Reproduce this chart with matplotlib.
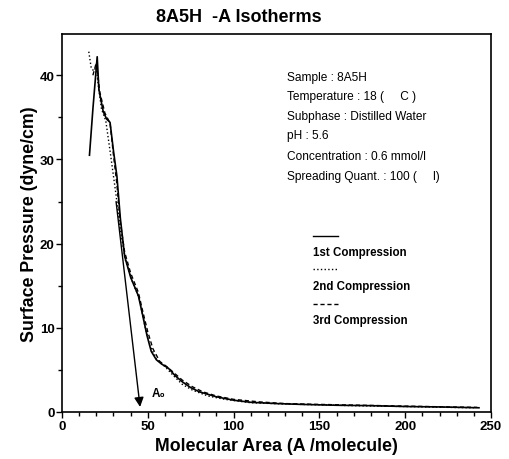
import matplotlib
matplotlib.use("Agg")
import matplotlib.pyplot as plt
from matplotlib.ticker import MultipleLocator

plt.rcParams['font.family'] = ['Liberation Sans', 'DejaVu Sans']

# 1st compression (solid)
x1 = [16, 18, 20.5, 21.5, 24, 26, 28, 30, 32, 34, 36.5, 40, 44.5, 47, 49.5, 52, 55, 58, 62, 66, 70, 75, 80, 90, 100, 110, 125, 140, 160, 180, 200, 220, 243]
y1 = [30.5, 36, 42.2, 38.3, 35.7, 34.8, 34.4, 31, 28, 23, 18.5, 16, 13.8, 11.5, 9.1, 7.2, 6.2, 5.7, 5.2, 4.3, 3.6, 2.9, 2.4, 1.8, 1.4, 1.15, 1.0, 0.9, 0.8, 0.75, 0.65, 0.6, 0.5]
# 2nd compression (dotted)
x2 = [15.6, 17, 18.5, 20, 21, 23, 25.5, 28, 30, 32, 34, 37, 41, 45, 48, 51, 55, 60, 65, 70, 76, 85, 95, 110, 130, 150, 170, 200, 225, 240]
y2 = [42.8, 40.9, 40.5, 41, 39, 36, 34.6, 31, 28, 25, 21.5, 18, 15.5, 13.5, 10.5, 8, 6.3, 5.4, 4.3, 3.3, 2.6, 1.9, 1.5, 1.1, 0.95, 0.85, 0.75, 0.65, 0.55, 0.5]
# 3rd compression (dashed)
x3 = [18, 20, 22, 25, 28, 30, 32, 34, 36.5, 40, 44.5, 47, 50, 53, 57, 61, 65, 70, 76, 82, 90, 100, 115, 130, 150, 175, 200, 225, 242]
y3 = [40, 41.5, 38, 35.5, 34.3, 30.5, 27, 22.5, 19, 16.5, 14.2, 12, 9.5, 7.5, 6, 5.4, 4.7, 3.8, 3.0, 2.4, 1.9, 1.5, 1.2, 1.0, 0.9, 0.8, 0.7, 0.6, 0.55]

arrow_start = (31.5, 25)
arrow_end = (45.5, 0.6)

info_lines = ["Sample : 8A5H", "Temperature : 18 (     C )", "Subphase : Distilled Water",
              "pH : 5.6", "Concentration : 0.6 mmol/l", "Spreading Quant. : 100 (     l)"]
legend_labels = ["1st Compression", "2nd Compression", "3rd Compression"]

fig = plt.figure(figsize=(5.1, 4.6), dpi=100)
ax = fig.add_axes([0.1216, 0.1022, 0.8411, 0.8217])

ax.plot(x1, y1, color='black', lw=1.2, ls='-')
ax.plot(x2, y2, color='black', lw=1.0, ls=':')
ax.plot(x3, y3, color='black', lw=1.0, ls=(0, (3, 2)))

ax.annotate('', xy=arrow_end, xytext=arrow_start,
            arrowprops=dict(arrowstyle='-|>', color='black', lw=1.0,
                            mutation_scale=14, shrinkA=0, shrinkB=0))
ax.text(52, 2.3, 'A\u2080', fontsize=8.5, fontweight='bold', va='center')

ax.set_xlim(0, 250)
ax.set_ylim(0, 44.9)
ax.xaxis.set_major_locator(MultipleLocator(50))
ax.xaxis.set_minor_locator(MultipleLocator(10))
ax.yaxis.set_major_locator(MultipleLocator(10))
ax.yaxis.set_minor_locator(MultipleLocator(5))
ax.tick_params(which='major', length=4, width=1, direction='out', labelsize=9.5, pad=1.5)
ax.tick_params(which='minor', length=3, width=1, direction='out')
for lab in ax.get_xticklabels() + ax.get_yticklabels():
    lab.set_fontweight('bold')
for s in ax.spines.values():
    s.set_linewidth(1.2)

ax.set_xlabel('Molecular Area (A /molecule)', fontsize=12.8, fontweight='bold', labelpad=4)
ax.set_ylabel('Surface Pressure (dyne/cm)', fontsize=12.8, fontweight='bold', labelpad=1)
fig.text(239/510, 1 - 18/460, '8A5H  -A Isotherms', fontsize=13, fontweight='bold',
         ha='center', va='center')

# info block
ys = [78, 97, 117, 136, 157, 177]
for t, yy in zip(info_lines, ys):
    fig.text(287/510, 1 - yy/460, t, fontsize=8.6, ha='left', va='center')

# legend
line_y = [237, 270, 305]
text_y = [253, 287, 321]
styles = ['-', ':', (0, (3, 2))]
for ly, ty, st, lab in zip(line_y, text_y, styles, legend_labels):
    fig.add_artist(plt.Line2D([313/510, 338/510], [1 - ly/460, 1 - ly/460],
                              color='black', lw=1.0, ls=st))
    fig.text(313/510, 1 - ty/460, lab, fontsize=8.3, fontweight='bold', ha='left', va='center')

fig.savefig('out.png', dpi=100)
